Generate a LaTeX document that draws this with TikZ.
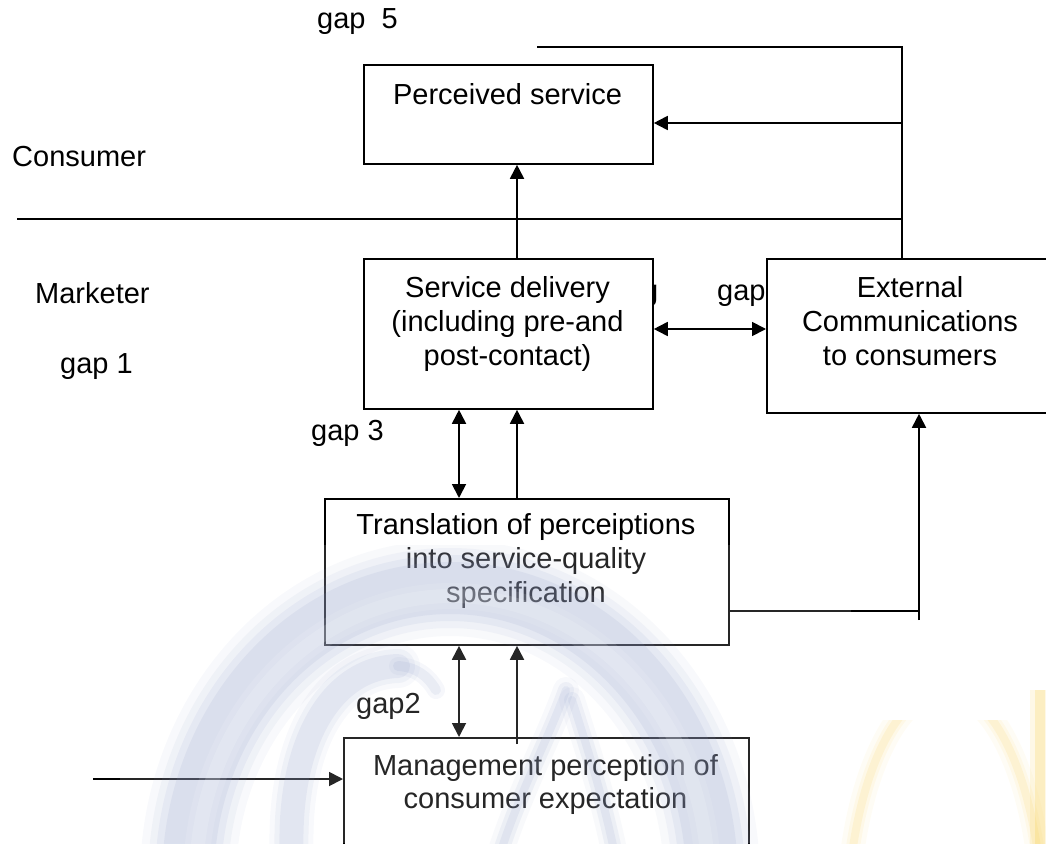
\documentclass[tikz,border=0pt]{standalone}
\usepackage{fontspec}
\setmainfont{Liberation Sans}
\usetikzlibrary{arrows.meta}

\definecolor{wmblue}{RGB}{140,156,200}
\definecolor{wmyellow}{RGB}{245,200,60}

\begin{document}
\begin{tikzpicture}[x=1pt,y=-1pt,
  box/.style={draw=black, line width=1.8pt, fill=white, rectangle,
              inner sep=0pt, anchor=north west},
  lbl/.style={font=\fontsize{29pt}{34pt}\selectfont, inner sep=0pt, anchor=base},
  lblw/.style={lbl, anchor=base west},
  wire/.style={line width=1.8pt},
  arr/.style={wire, -{Triangle[length=14pt,width=14pt]}},
  dbl/.style={wire, {Triangle[length=14pt,width=14pt]}-{Triangle[length=14pt,width=14pt]}},
  soft/.style={line cap=round, opacity=#1}
]
\useasboundingbox (0,0) rectangle (1046,843);

% text partly covered by the boxes
\node[lblw] (hidg) at (642,300) {g};
\node[lblw] (gap4) at (717,300) {gap};

% boxes
\node[box, minimum width=289pt, minimum height=99pt]  (ps) at (363,64)  {};
\node[box, minimum width=289pt, minimum height=150pt] (sd) at (363,258) {};
\node[box, minimum width=294pt, minimum height=154pt] (ec) at (766,258) {};
\node[box, minimum width=404pt, minimum height=146pt] (tr) at (324,498) {};
\node[box, minimum width=405pt, minimum height=130pt] (mp) at (343,737) {};

% box texts
\node[lbl] (pst)  at (507.5,104) {Perceived service};
\node[lbl] (sdt1) at (507.5,297) {Service delivery};
\node[lbl] (sdt2) at (507.5,331) {(including pre-and};
\node[lbl] (sdt3) at (507.5,365) {post-contact)};
\node[lbl] (ect1) at (910,297) {External};
\node[lbl] (ect2) at (910,331) {Communications};
\node[lbl] (ect3) at (910,365) {to consumers};
\node[lbl] (trt1) at (526,534) {Translation of perceiptions};
\node[lbl] (trt2) at (526,568) {into service-quality};
\node[lbl] (trt3) at (526,602) {specification};
\node[lbl] (mpt1) at (545.5,775) {Management perception of};
\node[lbl] (mpt2) at (545.5,808) {consumer expectation};

% free labels
\node[lblw] (gap5) at (317,29)  {gap\ \ 5};
\node[lblw] (cons) at (12,166)  {Consumer};
\node[lblw] (mark) at (35,303)  {Marketer};
\node[lblw] (gap1) at (60,373)  {gap 1};
\node[lblw] (gap3) at (311,440) {gap 3};
\node[lblw] (gap2) at (356,713) {gap2};

% guide coordinates
\coordinate (topL)  at (537,47);
\coordinate (rail)  at (902,47);
\coordinate (rowP)  at (0,123);
\coordinate (sepL)  at (17,219);
\coordinate (rowD)  at (0,329);
\coordinate (colA)  at (459,0);
\coordinate (colB)  at (517,0);
\coordinate (mpIn)  at (517,744);
\coordinate (rowT)  at (0,611);
\coordinate (colE)  at (919,0);
\coordinate (colEb) at (919,620);
\coordinate (inL)   at (93,779);

% connectors
\draw[wire] (topL) -- (rail) -- (rail |- ec.north);
\draw[arr]  (rail |- rowP) -- (ps.east |- rowP);
\draw[wire] (sepL) -- (sepL -| rail);
\draw[arr]  (colB |- sd.north) -- (colB |- ps.south);
\draw[dbl]  (sd.east |- rowD) -- (ec.west |- rowD);
\draw[dbl]  (colA |- sd.south) -- (colA |- tr.north);
\draw[arr]  (colB |- tr.north) -- (colB |- sd.south);
\draw[dbl]  (colA |- tr.south) -- (colA |- mp.north);
\draw[arr]  (mpIn) -- (colB |- tr.south);
\draw[wire] (tr.east |- rowT) -- (colE |- rowT);
\draw[arr]  (colEb) -- (colEb |- ec.south);
\draw[arr]  (inL) -- (inL -| mp.west);

% faint emblem in the lower part
\begin{scope}
  \clip (120,545) rectangle (851,843);
  \fill[white, opacity=0.15] (120,545) rectangle (851,843);
  % outer ring, built from soft layers
  \foreach \w/\o in {96/0.06, 80/0.08, 66/0.10, 52/0.12} {
    \draw[wmblue, line width=\w pt, opacity=\o] (450,880) ellipse [x radius=262pt, y radius=292pt];
  }
  \foreach \w/\o in {26/0.10, 14/0.14} {
    \draw[white, line width=\w pt, opacity=\o] (452,880) ellipse [x radius=256pt, y radius=284pt];
  }
  % inner swirl
  \foreach \w/\o in {44/0.06, 34/0.09, 24/0.12} {
    \draw[wmblue, line width=\w pt, soft=\o]
      (292,860) .. controls (286,745) and (330,668) .. (398,666);
  }
  \foreach \w/\o in {18/0.08, 10/0.12} {
    \draw[wmblue, line width=\w pt, soft=\o]
      (398,666) .. controls (416,667) and (428,676) .. (436,690);
  }
  % pointed stroke in the middle
  \foreach \w/\o in {26/0.06, 16/0.10, 8/0.12} {
    \draw[wmblue, line width=\w pt, soft=\o]
      (566,690) .. controls (548,740) and (520,790) .. (498,860);
    \draw[wmblue, line width=\w pt, soft=\o]
      (572,700) .. controls (588,750) and (604,800) .. (616,860);
  }
\end{scope}
\begin{scope}
  \clip (835,720) rectangle (1046,843);
  \foreach \w/\o in {24/0.05, 14/0.08, 8/0.12} {
    \draw[wmyellow, line width=\w pt, opacity=\o] (945,930) ellipse [x radius=98pt, y radius=240pt];
  }
\end{scope}
\begin{scope}
  \clip (835,680) rectangle (1046,843);
  \foreach \w/\o in {20/0.12, 10/0.22} {
    \draw[wmyellow, line width=\w pt, opacity=\o] (1040,690) -- (1040,860);
  }
\end{scope}
\end{tikzpicture}
\end{document}
